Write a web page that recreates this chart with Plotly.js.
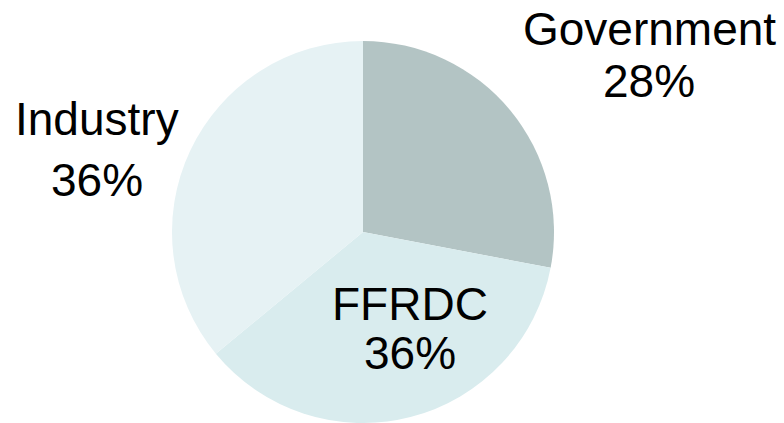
<!DOCTYPE html>
<html>
<head>
<meta charset="utf-8">
<script src="https://cdn.plot.ly/plotly-3.0.1.min.js"></script>
<style>html,body{margin:0;padding:0;background:#fff;}#chart{width:784px;height:423px;}</style>
</head>
<body>
<div id="chart"></div>
<script>
const categories = ["Government", "FFRDC", "Industry"];
const shares = [28, 36, 36];
const shareLabels = ["28%", "36%", "36%"];
const sliceColors = ["#B3C4C4", "#D9ECEE", "#E6F2F4"];

const W = 784, H = 423;
// label positions (pixel centers) for name line and percent line
const labelPos = [
  {x: 649, y1: 29, y2: 81},
  {x: 410, y1: 304, y2: 353},
  {x: 97,  y1: 119, y2: 180}
];

const annotations = [];
categories.forEach((c, i) => {
  const p = labelPos[i];
  annotations.push({text: c, x: p.x / W, y: 1 - p.y1 / H, xref: 'paper', yref: 'paper',
    xanchor: 'center', yanchor: 'middle', showarrow: false,
    font: {family: 'Liberation Sans, Arial, sans-serif', size: 46, color: '#000'}});
  annotations.push({text: shareLabels[i], x: p.x / W, y: 1 - p.y2 / H, xref: 'paper', yref: 'paper',
    xanchor: 'center', yanchor: 'middle', showarrow: false,
    font: {family: 'Liberation Sans, Arial, sans-serif', size: 46, color: '#000'}});
});

const cx = 363, cy = 232, r = 191;
Plotly.newPlot('chart', [{
  type: 'pie',
  labels: categories,
  values: shares,
  sort: false,
  direction: 'clockwise',
  rotation: 0,
  textinfo: 'none',
  hoverinfo: 'label+percent',
  marker: {colors: sliceColors, line: {width: 0}},
  domain: {x: [(cx - r) / W, (cx + r) / W], y: [1 - (cy + r) / H, 1 - (cy - r) / H]}
}], {
  width: W, height: H,
  margin: {l: 0, r: 0, t: 0, b: 0},
  showlegend: false,
  paper_bgcolor: '#fff',
  annotations: annotations
}, {displayModeBar: false, staticPlot: true});
</script>
</body>
</html>
